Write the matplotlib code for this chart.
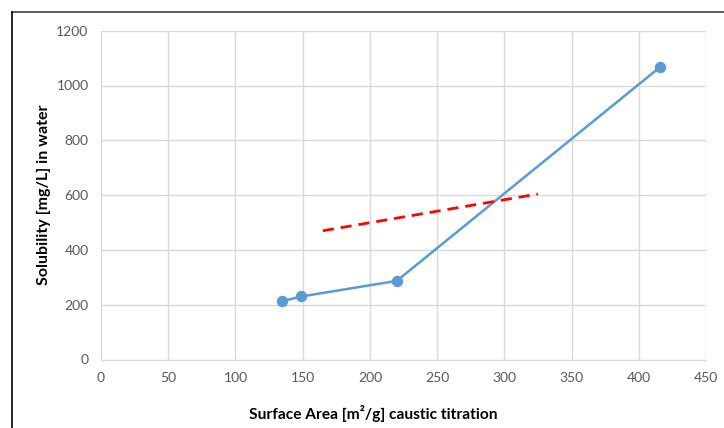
import matplotlib
matplotlib.use("Agg")
import matplotlib.pyplot as plt
from matplotlib.lines import Line2D

surface_area = [135, 149, 220, 416]
solubility = [213, 230, 287, 1068]
trend_x = [165, 325]
trend_y = [470, 604]
x_ticks = [0, 50, 100, 150, 200, 250, 300, 350, 400, 450]
y_ticks = [0, 200, 400, 600, 800, 1000, 1200]

plt.rcParams['font.family'] = ['Lato', 'DejaVu Sans']

fig = plt.figure(figsize=(7.24, 4.28), dpi=100)
ax = fig.add_axes([101/724, 1 - 359.5/428, (706-101)/724, (359.5-30.7)/428])

ax.plot(surface_area, solubility, color='#5b9bd5', lw=1.8, marker='o', ms=7.2, zorder=3)
ax.plot(trend_x, trend_y, color='#ff0000', lw=2.0, ls=(0, (4, 2.5)), zorder=4)

ax.set_xlim(0, 450)
ax.set_ylim(0, 1200)
ax.set_xticks(x_ticks)
ax.set_yticks(y_ticks)
ax.grid(True, color='#d9d9d9', lw=1.0)
ax.set_axisbelow(True)
for s in ['top', 'right', 'left']:
    ax.spines[s].set_visible(False)
ax.spines['bottom'].set_color('#d9d9d9')
ax.tick_params(length=0, labelsize=10, labelcolor='#595959', pad=9)

fig.text(373/724, 1 - 414/428, 'Surface Area [m²/g] caustic titration', fontsize=11.2,
         fontweight='bold', ha='center', va='center')
fig.text(44/724, 1 - 195/428, 'Solubility [mg/L] in water', fontsize=11.5,
         fontweight='bold', ha='center', va='center', rotation=90)

fig.add_artist(Line2D([12/724, 1], [1 - 12/428, 1 - 12/428], color='#404040', lw=1.2, transform=fig.transFigure))
fig.add_artist(Line2D([12/724, 12/724], [0, 1 - 12/428], color='#000000', lw=1.2, transform=fig.transFigure))

fig.savefig('out.png', dpi=100)
